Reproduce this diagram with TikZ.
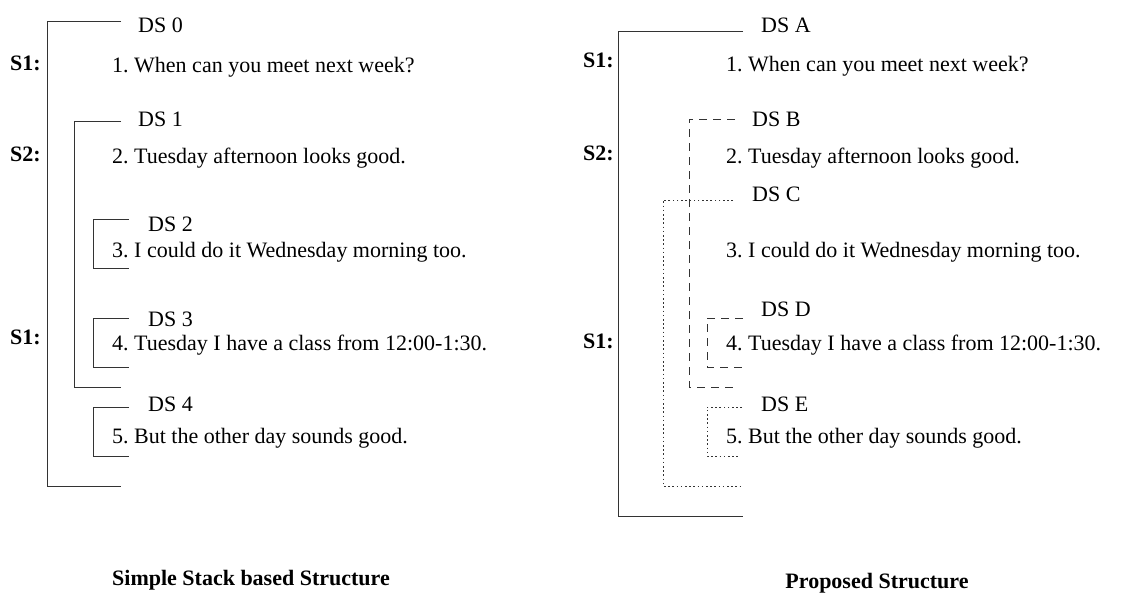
\documentclass[tikz,border=0pt]{standalone}
\usepackage{fontspec}
\setmainfont{Liberation Serif}
\frenchspacing
\begin{document}
\begin{tikzpicture}[x=1pt,y=-1pt,
  txt/.style={anchor=base west,inner sep=0pt,font=\fontsize{22}{24}\selectfont\frenchspacing},
  lab/.style={anchor=base west,inner sep=0pt,font=\fontsize{22}{24}\selectfont\bfseries},
  ttl/.style={anchor=base,inner sep=0pt,font=\fontsize{22}{24}\selectfont\bfseries},
  brk/.style={draw=black!80,line width=0.9pt},
  dsh/.style={brk,dash pattern=on 8pt off 6pt},
  dtt/.style={brk,dash pattern=on 1.6pt off 2.6pt}]
\useasboundingbox (0,0) rectangle (1148,592);
% ---------- left ----------
\node[txt] (l0) at (138,32) {DS 0};
\node[lab] (ls1) at (10,70.5) {S1:};
\node[txt] (lu1) at (112,72) {1. When can you meet next week?};
\node[txt] (l1) at (138,126) {DS 1};
\node[lab] (ls2) at (10,161.5) {S2:};
\node[txt] (lu2) at (112,163) {2. Tuesday afternoon looks good.};
\node[txt] (l2) at (148,231) {DS 2};
\node[txt] (lu3) at (112,257) {3. I could do it Wednesday morning too.};
\node[txt] (l3) at (148,326) {DS 3};
\node[lab] (ls3) at (10,344) {S1:};
\node[txt] (lu4) at (112,350) {4. Tuesday I have a class from 12:00-1:30.};
\node[txt] (l4) at (148,411) {DS 4};
\node[txt] (lu5) at (112,443) {5. But the other day sounds good.};
\node[ttl] (lt) at (251,585) {Simple Stack based Structure};
\draw[brk] (121,21.5) -- (47,21.5) -- (47,486) -- (121,486);
\draw[brk] (121,121) -- (74,121) -- (74,387) -- (121,387);
\draw[brk] (129,219) -- (93,219) -- (93,268) -- (129,268);
\draw[brk] (129,318) -- (93,318) -- (93,367) -- (129,367);
\draw[brk] (129,407) -- (93,407) -- (93,456) -- (129,456);
% ---------- right ----------
\node[txt] (rA) at (761,32) {DS A};
\node[lab] (rs1) at (583,67) {S1:};
\node[txt] (ru1) at (726,71) {1. When can you meet next week?};
\node[txt] (rB) at (752,126) {DS B};
\node[lab] (rs2) at (583,160) {S2:};
\node[txt] (ru2) at (726,163) {2. Tuesday afternoon looks good.};
\node[txt] (rC) at (752,201) {DS C};
\node[txt] (ru3) at (726,257) {3. I could do it Wednesday morning too.};
\node[txt] (rD) at (761,316) {DS D};
\node[lab] (rs3) at (583,348) {S1:};
\node[txt] (ru4) at (726,350) {4. Tuesday I have a class from 12:00-1:30.};
\node[txt] (rE) at (761,411) {DS E};
\node[txt] (ru5) at (726,443) {5. But the other day sounds good.};
\node[ttl] (rt) at (877,588) {Proposed Structure};
\draw[brk] (743,31) -- (618,31) -- (618,516) -- (743,516);
\draw[dsh] (735,119) -- (689,119) -- (689,387) -- (735,387);
\draw[dtt] (733,200) -- (663,200) -- (663,486) -- (743,486);
\draw[dsh] (743,318) -- (707,318) -- (707,367) -- (743,367);
\draw[dtt] (742,407) -- (707,407) -- (707,456) -- (738,456);
\end{tikzpicture}
\end{document}
